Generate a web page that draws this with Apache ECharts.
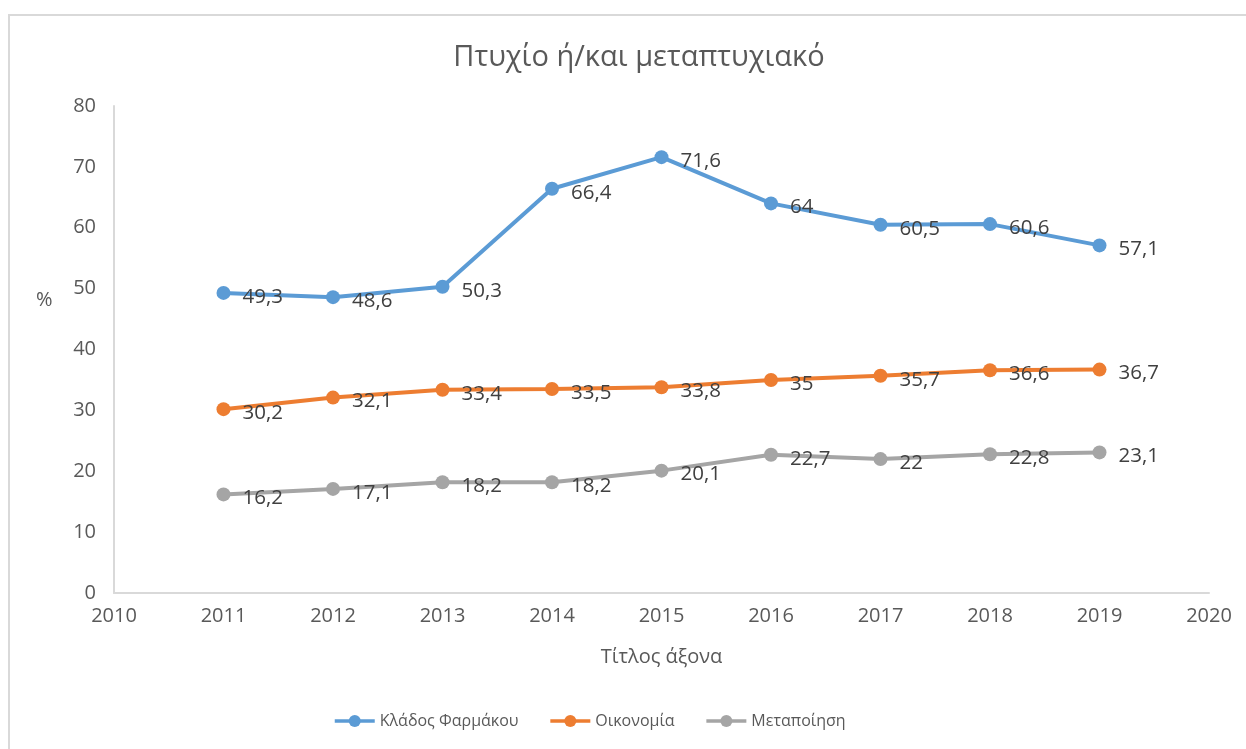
<!DOCTYPE html>
<html>
<head>
<meta charset="utf-8">
<script src="https://cdn.jsdelivr.net/npm/echarts@6/dist/echarts.min.js"></script>
<style>
  html, body { margin: 0; padding: 0; background: #fff; }
  #chart { width: 1246px; height: 749px; }
</style>
</head>
<body>
<div id="chart"></div>
<script>
const years = [2011, 2012, 2013, 2014, 2015, 2016, 2017, 2018, 2019]
const pharma = [49.3, 48.6, 50.3, 66.4, 71.6, 64, 60.5, 60.6, 57.1]
const economy = [30.2, 32.1, 33.4, 33.5, 33.8, 35, 35.7, 36.6, 36.7]
const manufacturing = [16.2, 17.1, 18.2, 18.2, 20.1, 22.7, 22, 22.8, 23.1]
const seriesNames = ['Κλάδος Φαρμάκου', 'Οικονομία', 'Μεταποίηση']
const colors = ['#5B9BD5', '#ED7D31', '#A5A5A5']

const font = 'Open Sans'

function makeSeries(name, values, color) {
  return {
    name: name,
    type: 'line',
    data: years.map((y, i) => [y, values[i]]),
    symbol: 'circle',
    symbolSize: 14,
    lineStyle: { color: color, width: 4 },
    itemStyle: { color: color },
    label: {
      show: true,
      position: 'right',
      distance: 12,
      offset: [0, 4],
      fontFamily: font,
      fontSize: 20.5,
      color: '#404040',
      formatter: p => String(p.value[1]).replace('.', ',')
    }
  }
}

let chart = echarts.init(document.getElementById('chart'))
chart.setOption({
  animation: false,
  backgroundColor: '#fff',
  title: {
    text: 'Πτυχίο ή/και μεταπτυχιακό',
    left: 634,
    top: 38,
    textAlign: 'center',
    textStyle: { fontFamily: font, fontSize: 29, fontWeight: 'normal', color: '#595959' }
  },
  graphic: [
    {
      type: 'rect',
      shape: { x: 9, y: 15, width: 1260, height: 760 },
      style: { fill: null, stroke: '#d9d9d9', lineWidth: 2 },
      silent: true
    },
    {
      type: 'text',
      left: 36,
      top: 290,
      style: { text: '%', fontFamily: font, fontSize: 20, fill: '#595959' }
    }
  ],
  legend: {
    data: seriesNames,
    left: 333,
    top: 713,
    padding: 0,
    itemWidth: 40,
    itemHeight: 15,
    itemGap: 30,
    lineStyle: { width: 3.5 },
    textStyle: { fontFamily: font, fontSize: 16, color: '#595959' }
  },
  grid: { left: 114, right: 37, top: 106, bottom: 156 },
  xAxis: {
    type: 'value',
    min: 2010,
    max: 2020,
    interval: 1,
    name: 'Τίτλος άξονα',
    nameLocation: 'middle',
    nameGap: 54,
    nameTextStyle: { fontFamily: font, fontSize: 20, color: '#595959' },
    axisLine: { show: true, lineStyle: { color: '#d9d9d9', width: 2 } },
    axisTick: { show: false },
    splitLine: { show: false },
    axisLabel: {
      margin: 13,
      fontFamily: font,
      fontSize: 20,
      color: '#595959',
      formatter: v => String(v)
    }
  },
  yAxis: {
    type: 'value',
    min: 0,
    max: 80,
    interval: 10,
    axisLine: { show: true, lineStyle: { color: '#d9d9d9', width: 2 } },
    axisTick: { show: false },
    splitLine: { show: false },
    axisLabel: { margin: 18, fontFamily: font, fontSize: 20, color: '#595959' }
  },
  series: [
    makeSeries(seriesNames[0], pharma, colors[0]),
    makeSeries(seriesNames[1], economy, colors[1]),
    makeSeries(seriesNames[2], manufacturing, colors[2])
  ]
})
</script>
</body>
</html>
